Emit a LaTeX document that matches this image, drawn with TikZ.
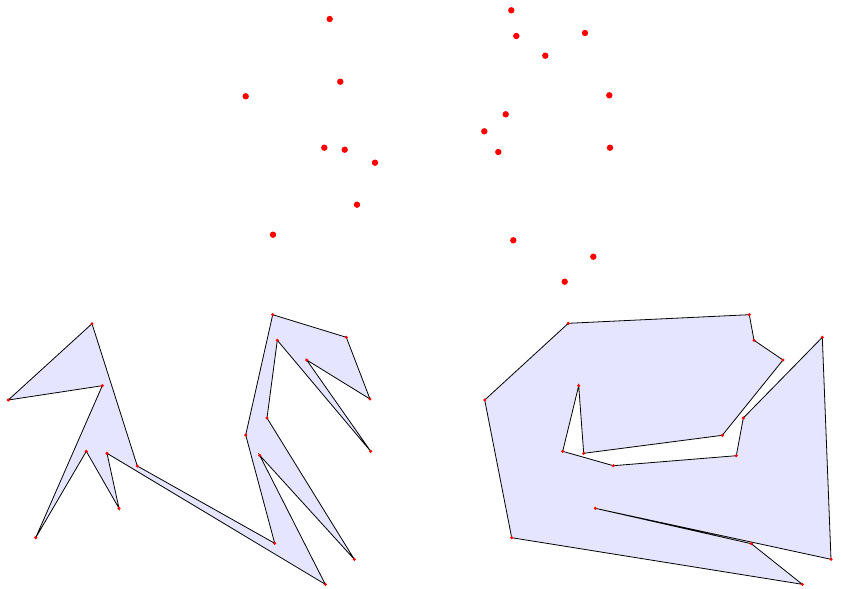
\documentclass[tikz,border=0pt]{standalone}
\definecolor{polyfill}{RGB}{229,229,255}
\begin{document}
\begin{tikzpicture}[x=1pt,y=-1pt,
  polyedge/.style={draw=black,fill=polyfill,line width=0.8pt,line join=miter},
  bigdot/.style={fill=red},
  smalldot/.style={fill=red}]
\useasboundingbox (0,0) rectangle (841,589);
% left polygon
\draw[polyedge] (92,323.7) -- (8.3,400) -- (102.3,385.7) -- (35.7,537.7) -- (86.3,451.3) -- (119,508.3) -- (107,453.3) -- (325.3,584.3) -- (259.7,455.3) -- (354.3,559.3) -- (267,418) -- (277.3,340.3) -- (370.7,451.3) -- (306.7,360) -- (370,399) -- (346.3,337.3) -- (272.7,314.7) -- (245.7,435) -- (274.7,543.3) -- (137.3,466) -- cycle;
\foreach \p in {(92,323.7),(8.3,400),(102.3,385.7),(35.7,537.7),(86.3,451.3),(119,508.3),(107,453.3),(274.7,543.3),(245.7,435),(272.7,314.7),(346.3,337.3),(370,399),(306.7,360),(370.7,451.3),(277.3,340.3),(267,418),(354.3,559.3),(259.7,455.3),(325.3,584.3),(137.3,466)}
  \fill[smalldot] \p circle (1.7);
% right polygon
\draw[polyedge] (568.3,323.3) -- (484.7,400) -- (511.7,537.7) -- (802.3,584.3) -- (751.3,543.7) -- (595.3,508.3) -- (831,559.3) -- (822.3,337.3) -- (743.3,418) -- (736.3,455.7) -- (613.3,465.7) -- (562.7,451.3) -- (578.7,385.7) -- (583.7,453.3) -- (722.3,435.3) -- (783,360) -- (754,340.3) -- (749.3,314.7) -- cycle;
\foreach \p in {(568.3,323.3),(484.7,400),(511.7,537.7),(802.3,584.3),(751.3,543.7),(595.3,508.3),(831,559.3),(822.3,337.3),(743.3,418),(736.3,455.7),(613.3,465.7),(562.7,451.3),(578.7,385.7),(583.7,453.3),(722.3,435.3),(783,360),(754,340.3),(749.3,314.7)}
  \fill[smalldot] \p circle (1.7);
% scattered points
\foreach \p in {(329.7,19),(340.3,81.7),(245.7,96.3),(324.3,147.7),(344.7,149.7),(375,162.7),(357,204.7),(273,234.7),
  (511.3,10.3),(516.3,36),(585,33),(545.3,55.7),(609.3,95.3),(505.7,114.3),(484.3,131.3),(498.3,152),(610,147.7),(513.3,240.3),(593.3,256.7),(564.7,281.7)}
  \fill[bigdot] \p circle (3.2);
\end{tikzpicture}
\end{document}
